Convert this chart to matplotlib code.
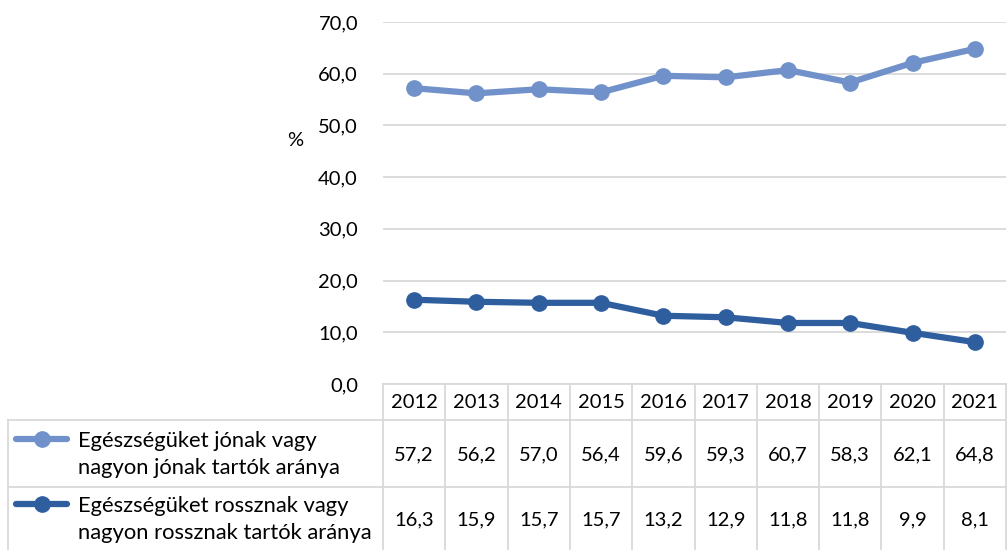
import matplotlib
matplotlib.use("Agg")
import matplotlib.pyplot as plt
from matplotlib.lines import Line2D

years = ["2012", "2013", "2014", "2015", "2016", "2017", "2018", "2019", "2020", "2021"]
good = [57.2, 56.2, 57.0, 56.4, 59.6, 59.3, 60.7, 58.3, 62.1, 64.8]
bad = [16.3, 15.9, 15.7, 15.7, 13.2, 12.9, 11.8, 11.8, 9.9, 8.1]
labels = ["Egészségüket jónak vagy\nnagyon jónak tartók aránya",
          "Egészségüket rossznak vagy\nnagyon rossznak tartók aránya"]
yticks = [0, 10, 20, 30, 40, 50, 60, 70]

plt.rcParams['font.family'] = ['Lato', 'DejaVu Sans']
W, H = 1007, 550
fig = plt.figure(figsize=(W / 100, H / 100), dpi=100)

c_light = "#7091CA"
c_dark = "#2F5E9F"
grid_c = "#D9D9D9"
fs = 14.5

x0, x1 = 383, 1006
ytop, ybot = 22, 384
ax = fig.add_axes([x0 / W, 1 - ybot / H, (x1 - x0) / W, (ybot - ytop) / H])
n = len(years)
xs = list(range(n))
ax.set_xlim(-0.5, n - 0.5)
ax.set_ylim(0, 70)
ax.set_yticks(yticks)
ax.set_yticklabels([f"{v:.1f}".replace(".", ",") for v in yticks], fontsize=fs)
ax.tick_params(axis='y', length=0, pad=18)
ax.set_xticks([])
ax.grid(axis='y', color=grid_c, linewidth=1.3)
ax.set_axisbelow(True)
for s in ax.spines.values():
    s.set_visible(False)
ax.plot(xs, good, color=c_light, lw=4.5, marker='o', ms=11, solid_capstyle='round', zorder=3)
ax.plot(xs, bad, color=c_dark, lw=4.5, marker='o', ms=11, solid_capstyle='round', zorder=3)
fig.text(295 / W, 1 - 140 / H, "%", fontsize=fs, ha='center', va='center')

# data table
def fx(px):
    return px / W

def fy(py):
    return 1 - py / H

colw = (x1 - x0) / n
y_h0, y_h1, y_r1, y_r2 = 384, 420, 487, 552
tl = dict(color=grid_c, lw=1.3, transform=fig.transFigure)
fig.add_artist(Line2D([fx(x0), fx(x1)], [fy(y_h0), fy(y_h0)], **tl))
fig.add_artist(Line2D([fx(8), fx(x1)], [fy(y_h1), fy(y_h1)], **tl))
fig.add_artist(Line2D([fx(8), fx(x1)], [fy(y_r1), fy(y_r1)], **tl))
fig.add_artist(Line2D([fx(8), fx(8)], [fy(y_h1), fy(y_r2)], **tl))
for i in range(n + 1):
    xx = x0 + i * colw
    fig.add_artist(Line2D([fx(xx), fx(xx)], [fy(y_h0), fy(y_r2)], **tl))

for i, yr in enumerate(years):
    cx = x0 + (i + 0.5) * colw
    fig.text(fx(cx), fy((y_h0 + y_h1) / 2 + 1), yr, fontsize=fs, ha='center', va='center')
    fig.text(fx(cx), fy((y_h1 + y_r1) / 2 + 1), f"{good[i]:.1f}".replace(".", ","), fontsize=fs, ha='center', va='center')
    fig.text(fx(cx), fy((y_r1 + 550) / 2 + 1), f"{bad[i]:.1f}".replace(".", ","), fontsize=fs, ha='center', va='center')

for lab, col, yc in [(labels[0], c_light, (y_h1 + y_r1) / 2), (labels[1], c_dark, (y_r1 + 550) / 2)]:
    ly = yc - 15
    fig.add_artist(Line2D([fx(16), fx(67)], [fy(ly), fy(ly)], color=col, lw=4.5,
                          solid_capstyle='round', transform=fig.transFigure))
    fig.add_artist(Line2D([fx(41.5)], [fy(ly)], color=col, marker='o', ms=11, lw=0,
                          transform=fig.transFigure))
    fig.text(fx(78), fy(yc + 1), lab, fontsize=15.8, ha='left', va='center', linespacing=1.45)

fig.savefig("out.png", dpi=100)
